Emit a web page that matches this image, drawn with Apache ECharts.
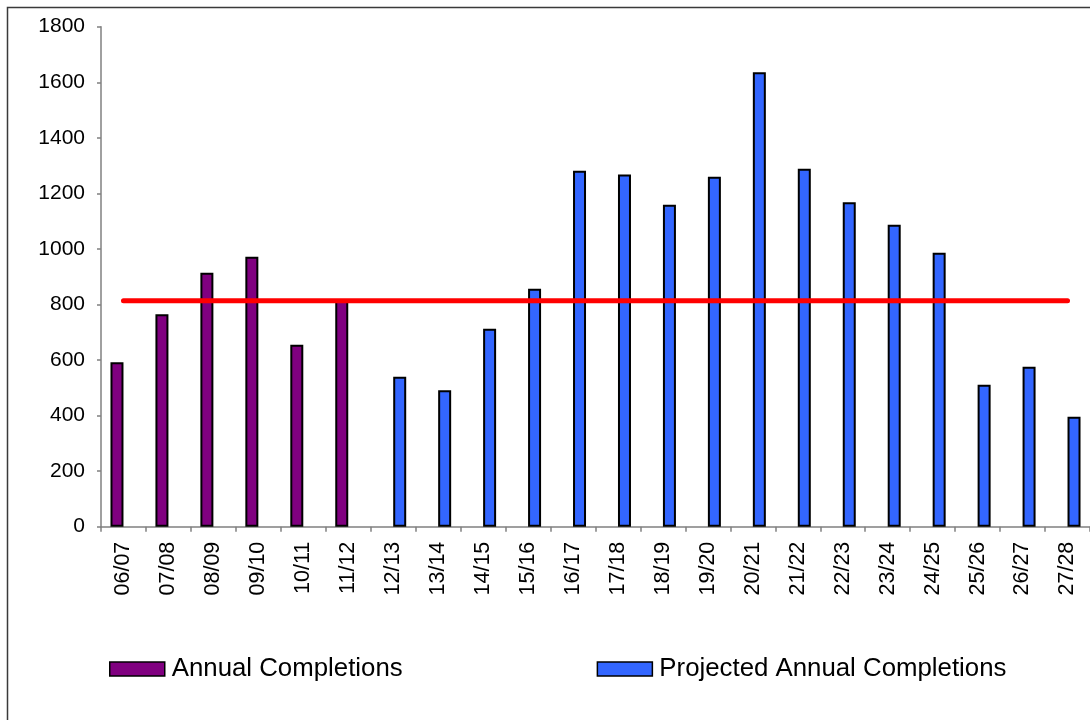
<!DOCTYPE html>
<html>
<head>
<meta charset="utf-8">
<title>Annual Completions</title>
<script src="https://cdn.jsdelivr.net/npm/echarts@6/dist/echarts.min.js"></script>
<style>
  html, body { margin: 0; padding: 0; background: #fff; }
  #myChart { width: 1090px; height: 720px; }
</style>
</head>
<body>
<div id="myChart"></div>
<script>
// 年度
const years = ['06/07', '07/08', '08/09', '09/10', '10/11', '11/12', '12/13', '13/14', '14/15', '15/16', '16/17',
  '17/18', '18/19', '19/20', '20/21', '21/22', '22/23', '23/24', '24/25', '25/26', '26/27', '27/28']

// 实际完成
const annual = [592, 765, 914, 972, 655, 815, null, null, null, null, null,
  null, null, null, null, null, null, null, null, null, null, null]

// 预计完成
const projected = [null, null, null, null, null, null, 540, 491, 713, 857, 1281,
  1268, 1159, 1260, 1636, 1289, 1168, 1087, 986, 511, 576, 396]

// 红线（目标值）
const target = [813, 813, 813, 813, 813, 813, 813, 813, 813, 813, 813,
  813, 813, 813, 813, 813, 813, 813, 813, 813, 813, 813]

const yTicks = { min: 0, max: 1800, interval: 200 }

const font = "'Liberation Sans', Arial, sans-serif"

let myChart = echarts.init(document.getElementById('myChart'))

var option = {
  animation: false,
  backgroundColor: '#fff',
  textStyle: { fontFamily: font },
  // 外框
  graphic: [
    {
      type: 'rect',
      shape: { x: 7.5, y: 7.5, width: 1200, height: 900 },
      style: { fill: 'none', stroke: '#3a3a3a', lineWidth: 1.5 },
      silent: true
    }
  ],
  legend: {
    data: ['Annual Completions', 'Projected Annual Completions'],
    left: 109,
    top: 656,
    padding: 0,
    itemWidth: 55,
    itemHeight: 14,
    itemGap: 194,
    icon: 'rect',
    textStyle: { fontSize: 25.8, color: '#000', fontFamily: font, padding: [0, 0, 0, 2] },
    itemStyle: { borderColor: '#000', borderWidth: 1.5 }
  },
  grid: {
    left: 101,
    right: -3,
    top: 26.7,
    bottom: 193.3,
    containLabel: false
  },
  xAxis: {
    type: 'category',
    data: years,
    boundaryGap: true,
    axisLine: { lineStyle: { color: '#808080', width: 1.5 } },
    axisTick: { show: true, alignWithLabel: false, length: 5, lineStyle: { color: '#808080', width: 1.5 } },
    axisLabel: { rotate: 90, margin: 15, fontSize: 21.5, color: '#000', fontFamily: font, interval: 0 },
    splitLine: { show: false }
  },
  yAxis: {
    type: 'value',
    min: yTicks.min,
    max: yTicks.max,
    interval: yTicks.interval,
    axisLine: { show: true, lineStyle: { color: '#808080', width: 1.5 } },
    axisTick: { show: true, length: 4, lineStyle: { color: '#808080', width: 1.5 } },
    axisLabel: { margin: 16, fontSize: 21, color: '#000', fontFamily: font, formatter: v => String(v) },
    splitLine: { show: false }
  },
  series: [
    {
      name: 'Annual Completions',
      type: 'bar',
      data: annual,
      barWidth: 13,
      barGap: '0%',
      itemStyle: { color: '#800080', borderColor: '#000', borderWidth: 2 }
    },
    {
      name: 'Projected Annual Completions',
      type: 'bar',
      data: projected,
      barWidth: 13,
      barGap: '0%',
      itemStyle: { color: '#3366FF', borderColor: '#000', borderWidth: 2 }
    },
    {
      name: 'Target',
      type: 'line',
      data: target,
      symbol: 'none',
      lineStyle: { color: '#FF0000', width: 5, cap: 'round' },
      z: 5
    }
  ]
}

myChart.setOption(option)
window.onresize = myChart.resize
</script>
</body>
</html>
